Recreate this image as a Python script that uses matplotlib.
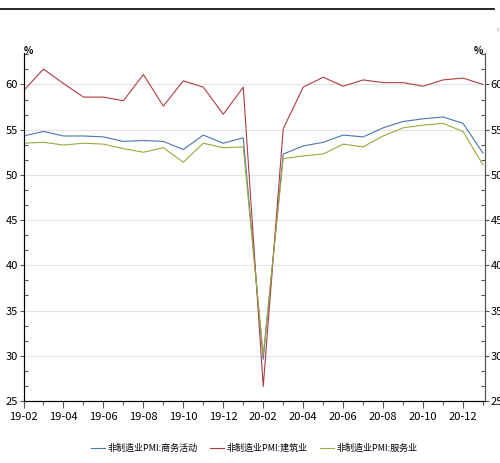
import matplotlib.pyplot as plt
import matplotlib.ticker as mticker
import numpy as np

plt.rcParams['font.family'] = ['Liberation Sans Narrow', 'Noto Sans CJK SC', 'DejaVu Sans']

months = ['19-02', '19-03', '19-04', '19-05', '19-06', '19-07', '19-08', '19-09',
          '19-10', '19-11', '19-12', '20-01', '20-02', '20-03', '20-04', '20-05',
          '20-06', '20-07', '20-08', '20-09', '20-10', '20-11', '20-12', '21-01']

business = [54.3, 54.8, 54.3, 54.3, 54.2, 53.7, 53.8, 53.7, 52.8, 54.4, 53.5, 54.1,
            29.6, 52.3, 53.2, 53.6, 54.4, 54.2, 55.2, 55.9, 56.2, 56.4, 55.7, 52.4]
construction = [59.3, 61.7, 60.1, 58.6, 58.6, 58.2, 61.1, 57.6, 60.4, 59.7, 56.7, 59.7,
                26.6, 55.1, 59.7, 60.8, 59.8, 60.5, 60.2, 60.2, 59.8, 60.5, 60.7, 60.0]
services = [53.5, 53.6, 53.3, 53.5, 53.4, 52.9, 52.5, 53.0, 51.4, 53.5, 53.0, 53.1,
            30.1, 51.8, 52.1, 52.3, 53.4, 53.1, 54.3, 55.2, 55.5, 55.7, 54.8, 51.1]

names = ['非制造业PMI:商务活动', '非制造业PMI:建筑业', '非制造业PMI:服务业']
colors = ['#4a76b0', '#b03c42', '#9aaa3c']

fig = plt.figure(figsize=(5, 4.63), dpi=100)
ax = fig.add_axes([0.047, 0.134, 0.923, 0.752])

x = np.arange(len(months))
for vals, name, c in zip([business, construction, services], names, colors):
    ax.plot(x, vals, color=c, linewidth=0.8, label=name)

ax.set_xlim(0, 23.1)
ax.set_ylim(25, 63.5)
ax.set_yticks(np.arange(25, 61, 5))
ax.yaxis.set_minor_locator(mticker.MultipleLocator(5 / 3))
ax.set_xticks(x[::2])
ax.set_xticklabels(months[::2])
ax.set_xticks(x, minor=True)
ax.grid(axis='y', color='#e4e4e4', linewidth=0.8)
ax.set_axisbelow(True)

ax.spines['top'].set_visible(False)
for s in ['left', 'bottom', 'right']:
    ax.spines[s].set_color('#555555')
    ax.spines[s].set_linewidth(0.8)

ax.tick_params(axis='x', which='major', length=5, width=0.8, color='#555555',
               labelsize=8, pad=3)
ax.tick_params(axis='x', which='minor', length=3, width=0.8, color='#555555')
ax.tick_params(axis='y', which='major', length=3, width=0.8, color='#555555',
               labelsize=8, pad=1)
ax.tick_params(axis='y', which='minor', direction='in', length=3, width=0.8,
               color='#555555')

ax2 = ax.twinx()
ax2.set_ylim(ax.get_ylim())
ax2.set_yticks(np.arange(25, 61, 5))
ax2.yaxis.set_minor_locator(mticker.MultipleLocator(5 / 3))
ax2.tick_params(axis='y', which='major', length=3, width=0.8, color='#555555',
                labelsize=8, pad=1)
ax2.tick_params(axis='y', which='minor', direction='in', length=3, width=0.8,
                color='#555555')
ax2.spines['top'].set_visible(False)
ax2.spines['right'].set_color('#555555')
ax2.spines['right'].set_linewidth(0.8)

ax.text(0.0, 0.99, '%', transform=ax.transAxes, fontsize=7, ha='left', va='bottom',
        fontweight='bold')
ax.text(0.995, 0.99, '%', transform=ax.transAxes, fontsize=7, ha='right', va='bottom',
        fontweight='bold')

# top frame line
fig.add_artist(plt.Line2D([0, 0.988], [0.981, 0.981], color='black', linewidth=1.2))
fig.text(0.996, 0.937, '‹', fontsize=6, color='#777777', ha='center', va='center')

ax.legend(loc='upper center', bbox_to_anchor=(0.5, -0.1), ncol=3, frameon=False,
          fontsize=6.5, handlelength=1.5, handletextpad=0.3, columnspacing=1.4)

fig.savefig('out.png', dpi=100)
